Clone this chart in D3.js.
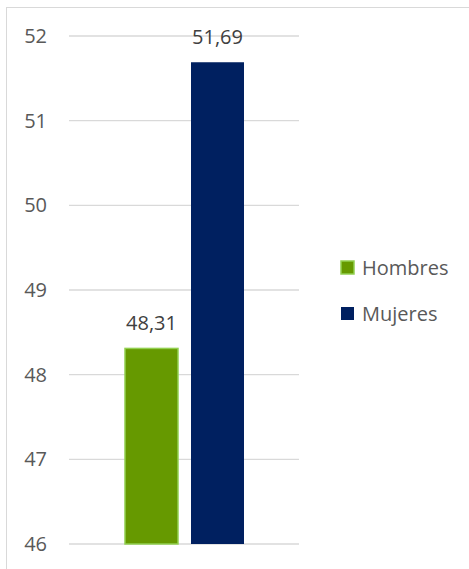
<!DOCTYPE html>
<html>
<head>
  <meta charset="UTF-8" />
  <title>Hombres y Mujeres</title>
  <style>
    body { margin: 0; background: white; }
    svg { display: block; font-family: "Open Sans", "Noto Sans", sans-serif; }
  </style>
  <script src="https://d3js.org/d3.v7.min.js"></script>
</head>
<body>
  <script>
    let categories = ["Hombres", "Mujeres"],
      values = [48.31, 51.69],
      yTicks = [46, 47, 48, 49, 50, 51, 52],
      colors = { Hombres: "#669900", Mujeres: "#002060" },
      strokes = { Hombres: "#92d050", Mujeres: "none" };

    let W = 469, H = 569,
      plot = { left: 69, right: 299, top: 36, bottom: 544 };

    let svg = d3.select("body").append("svg")
      .attr("width", W)
      .attr("height", H);

    /* chart border */
    svg.append("rect")
      .attr("x", 6.5).attr("y", 7.5)
      .attr("width", W + 10).attr("height", H + 10)
      .attr("fill", "white")
      .attr("stroke", "#d9d9d9");

    let y = d3.scaleLinear().domain([46, 52]).range([plot.bottom, plot.top]);
    let x = d3.scaleBand().domain(categories).range([125, 244]).paddingInner(0.197).paddingOuter(0);

    /* gridlines */
    svg.append("g").selectAll("line")
      .data(yTicks).enter().append("line")
      .attr("x1", plot.left).attr("x2", plot.right)
      .attr("y1", d => y(d)).attr("y2", d => y(d))
      .attr("stroke", "#d9d9d9")
      .attr("stroke-width", 1.3);

    /* y axis labels */
    svg.append("g").selectAll("text")
      .data(yTicks).enter().append("text")
      .attr("x", 47)
      .attr("y", d => y(d))
      .attr("dy", "0.35em")
      .attr("text-anchor", "end")
      .attr("fill", "#595959")
      .style("font-size", "20px")
      .text(d => d);

    /* bars */
    let data = categories.map((c, i) => ({ cat: c, val: values[i] }));
    svg.append("g").selectAll("rect")
      .data(data).enter().append("rect")
      .attr("x", d => x(d.cat))
      .attr("width", x.bandwidth())
      .attr("y", d => y(d.val))
      .attr("height", d => y(46) - y(d.val))
      .attr("fill", d => colors[d.cat])
      .attr("stroke", d => strokes[d.cat])
      .attr("stroke-width", 1.5);

    /* value labels */
    svg.append("g").selectAll("text")
      .data(data).enter().append("text")
      .attr("x", d => x(d.cat) + x.bandwidth() / 2)
      .attr("y", d => y(d.val) - 18)
      .attr("text-anchor", "middle")
      .attr("fill", "#404040")
      .style("font-size", "20px")
      .text(d => d3.format(".2f")(d.val).replace(".", ","));

    /* legend */
    let legend = svg.append("g").selectAll("g")
      .data(categories).enter().append("g")
      .attr("transform", (d, i) => `translate(341, ${261 + i * 46})`);

    legend.append("rect")
      .attr("width", 13).attr("height", 13)
      .attr("fill", d => colors[d])
      .attr("stroke", d => strokes[d])
      .attr("stroke-width", 1.5);

    legend.append("text")
      .attr("x", 21)
      .attr("y", 14)
      .attr("fill", "#595959")
      .style("font-size", "20px")
      .text(d => d);
  </script>
</body>
</html>
